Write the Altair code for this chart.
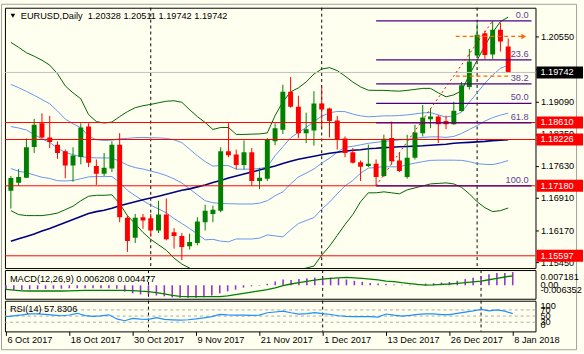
import json
import altair as alt
import pandas as pd

# ---------------- data ----------------
SYMBOL = "EURUSD"
PERIOD = "Daily"
HEAD_OHLC = ["1.20328", "1.20511", "1.19742", "1.19742"]

bar_index = list(range(65))
opens = [1.17065, 1.17251, 1.17363, 1.18057, 1.18594, 1.18274, 1.18110, 1.17960, 1.17640, 1.17833,
         1.18520, 1.17625, 1.17452, 1.17573, 1.18110, 1.16455, 1.16007, 1.16468, 1.16446, 1.16170,
         1.16528, 1.16132, 1.16043, 1.15812, 1.15886, 1.16356, 1.16544, 1.16618, 1.17960, 1.17887,
         1.17647, 1.17938, 1.17289, 1.17341, 1.18184, 1.18446, 1.19303, 1.18967, 1.18370, 1.18430,
         1.19041, 1.18929, 1.18654, 1.18251, 1.17938, 1.17714, 1.17625, 1.17676, 1.17401, 1.18258,
         1.17752, 1.17379, 1.17811, 1.18370, 1.18683, 1.18744, 1.18647, 1.18571, 1.18871, 1.19415,
         1.20124, 1.20630, 1.20147, 1.20706, 1.20328]
highs = [1.17401, 1.17558, 1.18251, 1.18692, 1.18817, 1.18759, 1.18184, 1.17998, 1.18050, 1.18594,
         1.18594, 1.17775, 1.17922, 1.18184, 1.18370, 1.16506, 1.16544, 1.16544, 1.16544, 1.16842,
         1.16893, 1.16222, 1.16110, 1.16097, 1.16468, 1.16752, 1.16730, 1.18050, 1.18594, 1.17998,
         1.18207, 1.18034, 1.17587, 1.18258, 1.18594, 1.19466, 1.19639, 1.19214, 1.18833, 1.19319,
         1.19415, 1.18945, 1.18759, 1.18296, 1.18034, 1.17752, 1.18110, 1.17775, 1.18334, 1.18632,
         1.17922, 1.18334, 1.18558, 1.19005, 1.18929, 1.18782, 1.18766, 1.19079, 1.19527, 1.20272,
         1.20854, 1.20684, 1.20907, 1.20869, 1.20511]
lows = [1.16663, 1.17177, 1.17356, 1.17922, 1.18251, 1.18034, 1.17788, 1.17350, 1.17273, 1.17663,
        1.17602, 1.17200, 1.17401, 1.17491, 1.16356, 1.15685, 1.15886, 1.16208, 1.16036, 1.16110,
        1.15947, 1.15761, 1.15499, 1.15739, 1.15835, 1.16170, 1.16356, 1.16580, 1.17826, 1.17551,
        1.17551, 1.17177, 1.17104, 1.17289, 1.18095, 1.18348, 1.18945, 1.18258, 1.18146, 1.18088,
        1.18482, 1.18274, 1.17998, 1.17826, 1.17685, 1.17289, 1.17602, 1.17180, 1.17379, 1.17663,
        1.17491, 1.17341, 1.17775, 1.18296, 1.18482, 1.18146, 1.18460, 1.18558, 1.18856, 1.19355,
        1.20109, 1.20048, 1.20048, 1.20214, 1.19742]
closes = [1.17356, 1.17379, 1.18050, 1.18558, 1.18274, 1.18169, 1.17922, 1.17640, 1.17864, 1.18497,
          1.17699, 1.17452, 1.17587, 1.18110, 1.16468, 1.15931, 1.16455, 1.16394, 1.16170, 1.16528,
          1.15969, 1.16043, 1.15797, 1.15909, 1.16372, 1.16618, 1.16640, 1.17960, 1.17871, 1.17647,
          1.17938, 1.17289, 1.17363, 1.18222, 1.18482, 1.19303, 1.18967, 1.18370, 1.18460, 1.19041,
          1.18907, 1.18647, 1.18222, 1.17922, 1.17699, 1.17609, 1.17676, 1.17379, 1.18245, 1.17737,
          1.17513, 1.17811, 1.18386, 1.18721, 1.18744, 1.18571, 1.18571, 1.18878, 1.19453, 1.19990,
          1.20594, 1.20138, 1.20706, 1.20444, 1.19742]

bb_mid = [1.18520, 1.18486, 1.18442, 1.18341, 1.18240, 1.18162, 1.18028, 1.17938, 1.17882, 1.17838,
          1.17820, 1.17811, 1.17811, 1.17804, 1.17737, 1.17647, 1.17591, 1.17558, 1.17513, 1.17468,
          1.17412, 1.17334, 1.17245, 1.17110, 1.16976, 1.16842, 1.16797, 1.16781, 1.16775, 1.16770,
          1.16768, 1.16768, 1.16786, 1.16842, 1.16954, 1.17043, 1.17222, 1.17379, 1.17468, 1.17558,
          1.17692, 1.17804, 1.17938, 1.18050, 1.18073, 1.18106, 1.18140, 1.18162, 1.18184, 1.18196,
          1.18218, 1.18229, 1.18251, 1.18274, 1.18285, 1.18285, 1.18274, 1.18296, 1.18363, 1.18453,
          1.18542, 1.18643, 1.18721, 1.18777, 1.18822]
bb1_up = [1.19471, 1.19398, 1.19314, 1.19225, 1.19130, 1.19035, 1.18870, 1.18688, 1.18582, 1.18492,
          1.18304, 1.18221, 1.18205, 1.18212, 1.18240, 1.18251, 1.18268, 1.18274, 1.18266, 1.18263,
          1.18251, 1.18218, 1.18156, 1.18005, 1.17860, 1.17726, 1.17625, 1.17640, 1.17636, 1.17556,
          1.17554, 1.17558, 1.17569, 1.17608, 1.17860, 1.18061, 1.18263, 1.18386, 1.18498, 1.18632,
          1.18755, 1.18828, 1.18861, 1.18856, 1.18800, 1.18761, 1.18740, 1.18749, 1.18761, 1.18761,
          1.18768, 1.18783, 1.18805, 1.18828, 1.18833, 1.18783, 1.18733, 1.18766, 1.18845, 1.19068,
          1.19281, 1.19496, 1.19684, 1.19835, 1.19907]
bb1_dn = [1.17569, 1.17508, 1.17474, 1.17424, 1.17373, 1.17345, 1.17295, 1.17289, 1.17301, 1.17340,
          1.17381, 1.17388, 1.17388, 1.17390, 1.17256, 1.17077, 1.16956, 1.16842, 1.16741, 1.16657,
          1.16568, 1.16439, 1.16327, 1.16215, 1.16092, 1.15958, 1.15969, 1.15928, 1.15913, 1.15978,
          1.15977, 1.15977, 1.15997, 1.16070, 1.16047, 1.16025, 1.16182, 1.16327, 1.16394, 1.16461,
          1.16652, 1.16808, 1.16998, 1.17177, 1.17301, 1.17463, 1.17580, 1.17591, 1.17614, 1.17608,
          1.17608, 1.17659, 1.17692, 1.17726, 1.17754, 1.17759, 1.17759, 1.17759, 1.17754, 1.17726,
          1.17681, 1.17664, 1.17659, 1.17698, 1.17750]
bb2_up = [1.20422, 1.20310, 1.20187, 1.20109, 1.20019, 1.19907, 1.19713, 1.19437, 1.19281, 1.19147,
          1.18789, 1.18632, 1.18598, 1.18621, 1.18744, 1.18856, 1.18945, 1.18990, 1.19019, 1.19057,
          1.19091, 1.19102, 1.19068, 1.18900, 1.18744, 1.18610, 1.18453, 1.18498, 1.18498, 1.18341,
          1.18341, 1.18348, 1.18352, 1.18375, 1.18766, 1.19079, 1.19303, 1.19393, 1.19527, 1.19706,
          1.19818, 1.19851, 1.19784, 1.19661, 1.19527, 1.19415, 1.19341, 1.19337, 1.19337, 1.19326,
          1.19319, 1.19337, 1.19359, 1.19382, 1.19382, 1.19281, 1.19191, 1.19236, 1.19326, 1.19684,
          1.20019, 1.20348, 1.20646, 1.20892, 1.20993]
bb2_dn = [1.16618, 1.16529, 1.16506, 1.16506, 1.16506, 1.16529, 1.16562, 1.16640, 1.16719, 1.16842,
          1.16943, 1.16965, 1.16965, 1.16976, 1.16775, 1.16506, 1.16320, 1.16126, 1.15969, 1.15846,
          1.15723, 1.15544, 1.15410, 1.15320, 1.15208, 1.15074, 1.15141, 1.15074, 1.15052, 1.15186,
          1.15186, 1.15186, 1.15208, 1.15298, 1.15141, 1.15007, 1.15141, 1.15276, 1.15320, 1.15365,
          1.15611, 1.15813, 1.16059, 1.16305, 1.16529, 1.16819, 1.17021, 1.17021, 1.17043, 1.17021,
          1.16998, 1.17088, 1.17133, 1.17177, 1.17222, 1.17233, 1.17245, 1.17222, 1.17144, 1.16998,
          1.16819, 1.16685, 1.16596, 1.16618, 1.16678]
ma_slow = [1.15924, 1.15980, 1.16036, 1.16092, 1.16159, 1.16215, 1.16282, 1.16350, 1.16417, 1.16484,
           1.16551, 1.16596, 1.16629, 1.16674, 1.16730, 1.16775, 1.16819, 1.16864, 1.16902, 1.16943,
           1.16987, 1.17032, 1.17077, 1.17110, 1.17155, 1.17200, 1.17256, 1.17301, 1.17356, 1.17401,
           1.17446, 1.17491, 1.17535, 1.17580, 1.17625, 1.17681, 1.17737, 1.17782, 1.17815, 1.17849,
           1.17882, 1.17916, 1.17938, 1.17961, 1.17983, 1.17994, 1.18017, 1.18028, 1.18043, 1.18050,
           1.18061, 1.18068, 1.18077, 1.18084, 1.18095, 1.18106, 1.18117, 1.18140, 1.18151, 1.18162,
           1.18173, 1.18184, 1.18200, 1.18211, 1.18222]

macd_main = [-0.0019, -0.0022, -0.0022, -0.0019, -0.0019, -0.0017, -0.0016, -0.0016, -0.0014, -0.0014,
             -0.0014, -0.0014, -0.0014, -0.0014, -0.0016, -0.0030, -0.0038, -0.0043, -0.0043, -0.0048,
             -0.0052, -0.0057, -0.0059, -0.0059, -0.0059, -0.0056, -0.0048, -0.0038, -0.0029, -0.0021,
             -0.0011, -0.0005, -0.0002, 0.0007, 0.0018, 0.0027, 0.0025, 0.0029, 0.0033, 0.0036,
             0.0036, 0.0036, 0.0033, 0.0027, 0.0021, 0.0016, 0.0011, 0.0008, 0.0006, 0.0004,
             0.0002, 0.0002, 0.0004, 0.0008, 0.0010, 0.0013, 0.0016, 0.0021, 0.0029, 0.0036,
             0.0044, 0.0052, 0.0058, 0.0058, 0.006208]
macd_signal = [-0.0019, -0.0023, -0.0026, -0.0027, -0.0027, -0.0027, -0.0027, -0.0027, -0.0026, -0.0025,
               -0.0024, -0.0024, -0.0024, -0.0024, -0.0024, -0.0024, -0.0025, -0.0028, -0.0030, -0.0035,
               -0.0041, -0.0048, -0.0052, -0.0054, -0.0054, -0.0054, -0.0054, -0.0054, -0.0050, -0.0044,
               -0.0038, -0.0032, -0.0026, -0.0020, -0.0012, -0.0002, 0.0006, 0.0012, 0.0018, 0.0024,
               0.0029, 0.0032, 0.0035, 0.0037, 0.0035, 0.0032, 0.0029, 0.0025, 0.0020, 0.0017,
               0.0012, 0.0008, 0.0004, 0.0001, 0.0002, 0.0004, 0.0006, 0.0009, 0.0012, 0.0016,
               0.0020, 0.0026, 0.0033, 0.0039, 0.004477]
rsi14 = [48, 50.7, 53.7, 57.3, 57, 55.5, 53, 51, 53.5, 59,
         51.5, 49, 50.5, 54, 40.7, 34.7, 42.3, 40.3, 39, 44.7,
         39, 37.7, 36.7, 38, 40.7, 44, 48, 55.7, 54, 53.3,
         53.3, 52, 53, 60.7, 63.3, 66, 60.7, 56.3, 58, 61.3,
         58, 55, 51, 49, 48.3, 48, 48, 46.5, 56.7, 53,
         50, 52, 55.5, 57, 57, 54.5, 54.5, 58.5, 63, 67,
         71.7, 67, 70, 66, 57.8306]

date_tick_bars = [0, 8, 16, 24, 32, 40, 48, 56, 64]
date_tick_labels = ["6 Oct 2017", "18 Oct 2017", "30 Oct 2017", "9 Nov 2017", "21 Nov 2017",
                    "1 Dec 2017", "13 Dec 2017", "26 Dec 2017", "8 Jan 2018"]
month_start_bars = [18, 40, 60]

price_ticks = [1.20550, 1.19810, 1.19090, 1.18350, 1.17630, 1.16910, 1.16170, 1.15450]
red_levels = [1.18610, 1.18226, 1.17180, 1.15597]
bid_price = 1.19742

fibo_bars = [47, 62]
fibo_prices = [1.17180, 1.20907]
fibo_levels = [0.0, 23.6, 38.2, 50.0, 61.8, 100.0]
fibo_end_bar = 67

orange_price = [1.20556, 1.19661]
orange_from = [57.25, 57.25]
orange_to = [66.0, 64.4]

macd_scale_vals = [0.007181, 0.0, -0.006352]
macd_scale_txt = ["0.007181", "0.00", "-0.006352"]
rsi_levels = [70, 50, 30]
rsi_scale_vals = [100, 70, 50, 30, 0]

# ---------------- styling / layout ----------------
FONT = "Liberation Sans"
FS = 9.3
BG = "#FFFFF0"
W = 536
H_MAIN, H_MACD, H_RSI = 263, 29, 31
GREEN_C = "#008000"
RED = "#FF0000"
BAND_G = "#006400"
BAND_B = "#6495ED"
NAVY = "#000080"
PURPLE = "#4B0082"
ORANGE = "#FF6600"

xsc = alt.Scale(domain=[-0.125, 66.875], nice=False, zero=False)
psc = alt.Scale(domain=[1.15320, 1.21205], nice=False, zero=False)
msc = alt.Scale(domain=[-0.006352, 0.007181], nice=False, zero=False)
rsc = alt.Scale(domain=[0, 100], nice=False, zero=False)

price_axis = alt.Axis(orient="right", values=price_ticks, format=".5f", title=None, grid=False,
                      domain=False, tickSize=3, tickColor="black", labelPadding=2,
                      labelFont=FONT, labelFontSize=FS, labelColor="black",
                      labelOverlap=False, labelBound=False, labelFlush=False)

date_expr = "%s[indexof(%s, datum.value)]" % (json.dumps(date_tick_labels), json.dumps(date_tick_bars))
date_axis = alt.Axis(orient="bottom", values=date_tick_bars, labelExpr=date_expr, title=None,
                     grid=False, domain=False, tickSize=4, tickColor="black", labelAlign="left",
                     labelBaseline="top", labelOffset=1, labelPadding=0, labelFont=FONT,
                     labelFontSize=FS, labelColor="black", labelOverlap=False, labelBound=False,
                     labelFlush=False)


def X(field="bar", axis=None):
    return alt.X(f"{field}:Q", scale=xsc, axis=axis)


def YP(field):
    return alt.Y(f"{field}:Q", scale=psc, axis=price_axis)


ind = pd.DataFrame({"bar": bar_index, "open": opens, "high": highs, "low": lows, "close": closes,
                    "mid": bb_mid, "b1u": bb1_up, "b1d": bb1_dn, "b2u": bb2_up, "b2d": bb2_dn,
                    "ma": ma_slow, "macd": macd_main, "sig": macd_signal, "rsi": rsi14})
ind["dir"] = ["up" if c >= o else "down" for o, c in zip(opens, closes)]
base = alt.Chart(ind)
dir_color = alt.Color("dir:N", scale=alt.Scale(domain=["up", "down"], range=[GREEN_C, RED]), legend=None)

sep_df = pd.DataFrame({"bar": month_start_bars})

# ---------------- main panel ----------------
frame = alt.Chart(pd.DataFrame({"k": [0]})).mark_rect(
    fillOpacity=0, stroke="#A0A0A0", strokeWidth=1).encode(
    x=alt.value(-3.5), x2=alt.value(577.5), y=alt.value(-3.5), y2=alt.value(345.5))

seps = alt.Chart(sep_df).mark_rule(color="black", strokeDash=[3, 3], strokeWidth=1).encode(x=X())

band_lines = []
for col, colr, sw in [("b2u", BAND_G, 1), ("b2d", BAND_G, 1), ("b1u", BAND_B, 1), ("mid", BAND_B, 1),
                      ("b1d", BAND_B, 1), ("ma", NAVY, 1.6)]:
    band_lines.append(base.mark_line(color=colr, strokeWidth=sw, clip=True).encode(x=X(), y=YP(col)))

wicks = base.mark_rule(strokeWidth=1, clip=True).encode(x=X(), y=YP("low"), y2="high:Q", color=dir_color)
bodies = base.mark_bar(size=5, clip=True).encode(x=X(), y=YP("open"), y2="close:Q", color=dir_color)

bid = alt.Chart(pd.DataFrame({"p": [bid_price]})).mark_rule(color="#C0C0C0", strokeWidth=1).encode(y=YP("p"))
reds = alt.Chart(pd.DataFrame({"p": red_levels})).mark_rule(color=RED, strokeWidth=1).encode(y=YP("p"))

f_lo, f_hi = fibo_prices
fibo_df = pd.DataFrame({
    "lvl": fibo_levels,
    "p": [f_hi - l / 100.0 * (f_hi - f_lo) for l in fibo_levels],
    "t": ["%.1f" % l for l in fibo_levels],
    "b0": [fibo_bars[0]] * len(fibo_levels),
    "b1": [fibo_end_bar] * len(fibo_levels),
})
fibo_lines = alt.Chart(fibo_df).mark_rule(color=PURPLE, strokeWidth=1.2, clip=True).encode(
    x=X("b0"), x2="b1:Q", y=YP("p"))
fibo_text = alt.Chart(fibo_df).mark_text(align="right", baseline="bottom", dx=-3, dy=-1, font=FONT,
                                         fontSize=FS, color="#5B3F96").encode(
    x=X("b1"), y=YP("p"), text="t:N")
fibo_base = alt.Chart(pd.DataFrame({"bar": fibo_bars, "p": fibo_prices})).mark_line(
    color=RED, strokeDash=[2, 3], strokeWidth=1).encode(x=X(), y=YP("p"))

or_df = pd.DataFrame({"b0": orange_from, "b1": orange_to, "p": orange_price})
orange = alt.Chart(or_df).mark_rule(color=ORANGE, strokeDash=[4, 3], strokeWidth=1.2).encode(
    x=X("b0"), x2="b1:Q", y=YP("p"))
arrow = alt.Chart(or_df.iloc[[0]]).mark_point(shape="triangle-right", filled=True, size=30,
                                              color=ORANGE, opacity=1).encode(x=X("b1"), y=YP("p"))

red_box_df = pd.DataFrame({"p": red_levels, "t": ["%.5f" % v for v in red_levels]})
bid_box_df = pd.DataFrame({"p": [bid_price], "t": ["%.5f" % bid_price]})
red_boxes = alt.Chart(red_box_df).mark_rect(height=12, color=RED).encode(
    y=YP("p"), x=alt.value(W + 1), x2=alt.value(W + 48))
bid_box = alt.Chart(bid_box_df).mark_rect(height=12, color="#000000").encode(
    y=YP("p"), x=alt.value(W + 1), x2=alt.value(W + 48))
red_box_text = alt.Chart(red_box_df).mark_text(align="left", baseline="middle", font=FONT, fontSize=FS,
                                               color="white").encode(y=YP("p"), x=alt.value(W + 5), text="t:N")
bid_box_text = alt.Chart(bid_box_df).mark_text(align="left", baseline="middle", font=FONT, fontSize=FS,
                                               color="white").encode(y=YP("p"), x=alt.value(W + 5), text="t:N")

head_df = pd.DataFrame({"t": ["%s,%s\u00a0\u00a0%s" % (SYMBOL, PERIOD, " ".join(HEAD_OHLC))]})
head_text = alt.Chart(head_df).mark_text(align="left", baseline="middle", font=FONT, fontSize=FS,
                                         color="black").encode(x=alt.value(16), y=alt.value(8), text="t:N")
head_tri = alt.Chart(head_df).mark_point(shape="triangle-down", filled=True, size=22, color="black",
                                         opacity=1).encode(x=alt.value(8), y=alt.value(8))

main = alt.layer(frame, seps, *band_lines, wicks, bodies, bid, reds, fibo_lines, fibo_base, orange, arrow,
                 fibo_text, red_boxes, bid_box, red_box_text, bid_box_text, head_tri, head_text
                 ).properties(width=W, height=H_MAIN)

# ---------------- MACD panel ----------------
macd_hist = base.mark_rule(color="#9932CC", strokeWidth=1.6).encode(
    x=X(), y=alt.Y("macd:Q", scale=msc, axis=None), y2=alt.datum(0))
macd_sig = base.mark_line(color=GREEN_C, strokeWidth=1.3).encode(
    x=X(), y=alt.Y("sig:Q", scale=msc, axis=None))
macd_title = alt.Chart(pd.DataFrame({"t": ["MACD(12,26,9) %.6f %.6f" % (macd_main[-1], macd_signal[-1])]})).mark_text(
    align="left", baseline="middle", font=FONT, fontSize=FS, color="black").encode(
    x=alt.value(5), y=alt.value(9), text="t:N")
mlab_df = pd.DataFrame({"v": macd_scale_vals, "t": macd_scale_txt, "k": [0, 1, 2]})
mlabs = []
for k, (bl, dy) in enumerate([("top", 3), ("middle", 0), ("bottom", -4)]):
    mlabs.append(alt.Chart(mlab_df).transform_filter(f"datum.k == {k}").mark_text(
        align="left", baseline=bl, dy=dy, font=FONT, fontSize=FS, color="black", limit=46, ellipsis="").encode(
        x=alt.value(W + 5), y=alt.Y("v:Q", scale=msc, axis=None), text="t:N"))
macd = alt.layer(seps, macd_hist, macd_sig, macd_title, *mlabs).properties(width=W, height=H_MACD)

# ---------------- RSI panel ----------------
seps_r = alt.Chart(sep_df).mark_rule(color="black", strokeDash=[3, 3], strokeWidth=1).encode(
    x=X(axis=date_axis))
rsi_lv = alt.Chart(pd.DataFrame({"v": rsi_levels})).mark_rule(color="#A9A9A9", strokeDash=[3, 3]).encode(
    y=alt.Y("v:Q", scale=rsc, axis=None))
rsi_line = base.mark_line(color="#1E90FF", strokeWidth=1.2).encode(
    x=X(axis=date_axis), y=alt.Y("rsi:Q", scale=rsc, axis=None))
rsi_title = alt.Chart(pd.DataFrame({"t": ["RSI(14) %.4f" % rsi14[-1]]})).mark_text(
    align="left", baseline="middle", font=FONT, fontSize=FS, color="black").encode(
    x=alt.value(5), y=alt.value(8), text="t:N")
rlab_df = pd.DataFrame({"v": rsi_scale_vals, "t": [str(v) for v in rsi_scale_vals], "k": [0, 1, 1, 1, 2]})
rlabs = []
for k, (bl, dy) in enumerate([("top", 1), ("middle", 0), ("bottom", -1)]):
    rlabs.append(alt.Chart(rlab_df).transform_filter(f"datum.k == {k}").mark_text(
        align="left", baseline=bl, dy=dy, font=FONT, fontSize=FS, color="black").encode(
        x=alt.value(W + 5), y=alt.Y("v:Q", scale=rsc, axis=None), text="t:N"))
rsi = alt.layer(seps_r, rsi_lv, rsi_line, rsi_title, *rlabs).properties(width=W, height=H_RSI)

chart = alt.vconcat(main, macd, rsi, spacing=2, bounds="flush").properties(
    padding={"left": 0, "top": 1, "right": 0, "bottom": 0}, background=BG
).configure_view(stroke="black", strokeWidth=1, fill=BG)

chart.save("out.html", embed_options={"renderer": "svg", "actions": False})
